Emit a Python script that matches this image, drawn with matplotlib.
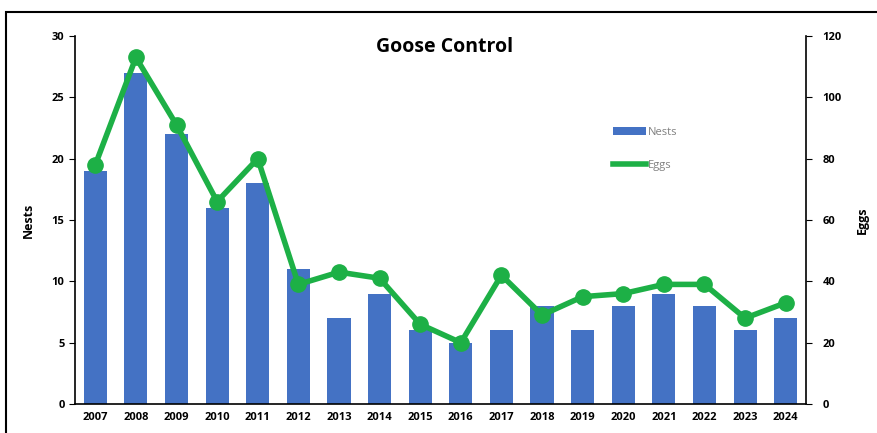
import matplotlib
matplotlib.use("Agg")
import matplotlib.pyplot as plt
from matplotlib.patches import Rectangle
from matplotlib.lines import Line2D
import numpy as np

years = ["2007", "2008", "2009", "2010", "2011", "2012", "2013", "2014", "2015",
         "2016", "2017", "2018", "2019", "2020", "2021", "2022", "2023", "2024"]
nests = [19, 27, 22, 16, 18, 11, 7, 9, 6, 5, 6, 8, 6, 8, 9, 8, 6, 7]
eggs = [78, 113, 91, 66, 80, 39, 43, 41, 26, 20, 42, 29, 35, 36, 39, 39, 28, 33]

plt.rcParams['font.family'] = ['Open Sans', 'DejaVu Sans']

fig = plt.figure(figsize=(8.77, 4.33), dpi=100)
fig.patches.append(Rectangle((6/877, -0.05), 1.0, 1 - 12/433 + 0.05,
                             transform=fig.transFigure, fill=False,
                             edgecolor='black', linewidth=1.5))
ax = fig.add_axes([75/877, 1 - 404/433, (806 - 75)/877, (404 - 36)/433])
x = np.arange(len(years))
b = ax.bar(x, nests, width=0.57, color='#4472C4', label='Nests', zorder=1)
ax.set_xlim(-0.5, len(years) - 0.5)
ax.set_ylim(0, 30)
ax.set_yticks(range(0, 31, 5))
ax.set_xticks(x)
ax.set_xticklabels(years)
for s in ['top', 'right']:
    ax.spines[s].set_visible(False)
ax.spines['left'].set_linewidth(1.2)
ax.spines['bottom'].set_linewidth(1.2)
ax.tick_params(axis='x', length=0, labelsize=8, pad=6)
ax.tick_params(axis='y', length=4, labelsize=8, direction='out')
for t in ax.get_xticklabels() + ax.get_yticklabels():
    t.set_fontweight('bold')
ax.set_ylabel('Nests', fontsize=9, fontweight='bold', labelpad=12)

ax2 = ax.twinx()
l, = ax2.plot(x, eggs, color='#1DB046', linewidth=4, marker='o', markersize=11,
              label='Eggs', zorder=3)
ax2.set_ylim(0, 120)
ax2.set_yticks(range(0, 121, 20))
for s in ['top', 'left', 'bottom']:
    ax2.spines[s].set_visible(False)
ax2.spines['right'].set_linewidth(1.2)
ax2.tick_params(axis='y', length=4, labelsize=8, direction='out', pad=8)
for t in ax2.get_yticklabels():
    t.set_fontweight('bold')
ax2.set_ylabel('Eggs', fontsize=9, fontweight='bold', rotation=90, labelpad=10)

fig.text(445/877, 1 - 47/433, 'Goose Control', ha='center', va='center',
         fontsize=14, fontweight='bold')

egg_handle = Line2D([], [], color='#1DB046', linewidth=4)
leg = ax2.legend([b, egg_handle], ['Nests', 'Eggs'], loc='upper left',
                 bbox_to_anchor=((603 - 75)/731, (404 - 117)/368),
                 frameon=False, fontsize=8, labelcolor='#808080',
                 handlelength=3.0, handletextpad=0.1, labelspacing=2.0)

fig.savefig('out.png', dpi=100)
